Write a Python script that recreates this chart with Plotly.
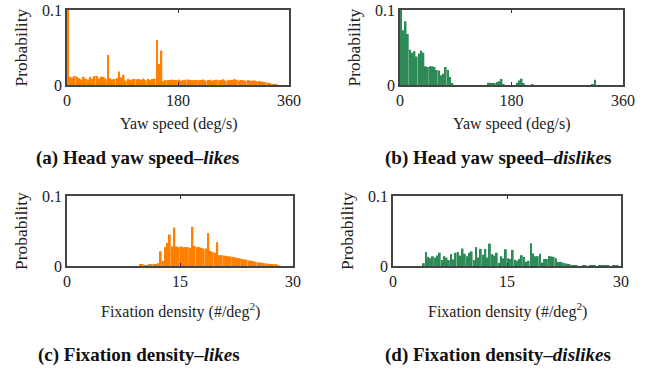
import numpy as np
import plotly.graph_objects as go

# ---------------- data ----------------
yaw_bin_width = 3.6          # deg/s, 100 bins over 0..360
fix_bin_width = 0.3          # #/deg^2, 100 bins over 0..30

yaw_likes = [0.1, 0.011, 0.010, 0.012, 0.011, 0.009, 0.0075, 0.011, 0.0085, 0.0075,
             0.011, 0.0085, 0.012, 0.012, 0.009, 0.011, 0.011, 0.0085, 0.040, 0.009,
             0.0075, 0.008, 0.0095, 0.018, 0.010, 0.0135, 0.006, 0.0085, 0.007, 0.0075,
             0.008, 0.0078, 0.008, 0.007, 0.0085, 0.0065, 0.008, 0.007, 0.008, 0.0085,
             0.060, 0.028, 0.046, 0.005, 0.0065, 0.0068, 0.0065, 0.0072, 0.0068, 0.0066,
             0.0072, 0.0058, 0.0064, 0.0070, 0.0075, 0.0068, 0.0066, 0.0065, 0.0068, 0.0062,
             0.0068, 0.0072, 0.0060, 0.0066, 0.0070, 0.0058, 0.0064, 0.0070, 0.0062, 0.0066,
             0.0076, 0.0060, 0.0065, 0.0068, 0.0066, 0.0078, 0.0070, 0.0060, 0.0068, 0.0064,
             0.0058, 0.0066, 0.0060, 0.0056, 0.0062, 0.0050, 0.0055, 0.0048, 0.0042, 0.0038,
             0.0030, 0.0020, 0.0012, 0.0008, 0.0005, 0.0, 0.0, 0.0, 0.0, 0.0]

yaw_dislikes = [0.1, 0.073, 0.085, 0.068, 0.047, 0.043, 0.045, 0.038, 0.042, 0.046,
                0.043, 0.025, 0.024, 0.025, 0.025, 0.024, 0.020, 0.0195, 0.013, 0.015,
                0.024, 0.020, 0.0107, 0.002, 0.0, 0.0, 0.0, 0.0, 0.0, 0.0,
                0.0, 0.0, 0.0, 0.0, 0.0, 0.0, 0.0, 0.0, 0.0, 0.003,
                0.003, 0.002, 0.002, 0.004, 0.005, 0.008, 0.001, 0.0, 0.0, 0.0,
                0.0, 0.0, 0.003, 0.006, 0.0085, 0.002, 0.0, 0.0, 0.0, 0.001,
                0.0, 0.0, 0.0, 0.0, 0.0, 0.0, 0.0, 0.0, 0.0, 0.0,
                0.0, 0.0, 0.0, 0.0, 0.0, 0.0, 0.0, 0.0, 0.0, 0.0,
                0.0, 0.0, 0.0, 0.0, 0.0, 0.0, 0.001, 0.007, 0.0, 0.0,
                0.0, 0.0, 0.0, 0.0, 0.0, 0.0, 0.0, 0.0, 0.0, 0.0]

fix_likes = [0.0] * 32 + [
    0.002, 0.002, 0.001, 0.001, 0.0015, 0.0015, 0.002, 0.002, 0.004, 0.021,
    0.007, 0.027, 0.033, 0.045, 0.028, 0.055, 0.028, 0.027, 0.028, 0.027,
    0.027, 0.027, 0.026, 0.056, 0.029, 0.027, 0.027, 0.026, 0.025, 0.025,
    0.047, 0.022, 0.020, 0.019, 0.034, 0.0155, 0.0155, 0.015, 0.0145, 0.014,
    0.0135, 0.013, 0.0125, 0.0115, 0.011, 0.010, 0.0095, 0.009, 0.008, 0.0075,
    0.007, 0.006, 0.0055, 0.005, 0.0045, 0.004, 0.0035, 0.003, 0.0025, 0.002,
    0.0015, 0.001] + [0.0] * 6

fix_dislikes = [0.0] * 13 + [
    0.004, 0.020, 0.013, 0.011, 0.014, 0.012, 0.015, 0.019, 0.0085, 0.014,
    0.012, 0.0085, 0.017, 0.0095, 0.019, 0.020, 0.015, 0.025, 0.0175, 0.014,
    0.019, 0.021, 0.0085, 0.027, 0.012, 0.0245, 0.016, 0.0245, 0.012, 0.032,
    0.017, 0.015, 0.019, 0.0047, 0.014, 0.011, 0.024, 0.011, 0.010, 0.023,
    0.009, 0.0075, 0.010, 0.0155, 0.013, 0.006, 0.0075, 0.0325, 0.018, 0.014,
    0.014, 0.0175, 0.005, 0.010, 0.010, 0.0145, 0.0137, 0.013, 0.011, 0.0057,
    0.006, 0.005, 0.004, 0.0033, 0.0028, 0.0014, 0.0005, 0.0005, 0.0, 0.0,
    0.0005, 0.0005, 0.0, 0.0005, 0.0005, 0.0005, 0.0, 0.0005, 0.0005, 0.0005,
    0.0005, 0.0005, 0.0, 0.0005, 0.0005, 0.0005, 0.0]

yaw_ticks = [0, 180, 360]
fix_ticks = [0, 15, 30]
prob_ticks = [0, 0.1]

captions = ["(a) Head yaw speed\u2013<i>like</i>s",
            "(b) Head yaw speed\u2013<i>dislike</i>s",
            "(c) Fixation density\u2013<i>like</i>s",
            "(d) Fixation density\u2013<i>dislike</i>s"]
xtitles = ["Yaw speed (deg/s)", "Yaw speed (deg/s)",
           "Fixation density (#/deg<sup>2</sup>)", "Fixation density (#/deg<sup>2</sup>)"]

ORANGE = "#FF8000"
GREEN = "#2E8B57"
FONT = "Liberation Serif"

W, H = 668, 373

def px(x):
    return x / W

def py(y):
    return 1 - y / H

# panel boxes in pixels (left, right, top, bottom)
boxes = [(67, 289, 10, 85), (400, 623, 10, 85), (67, 293, 196, 266), (393, 621, 196, 266)]
xtitle_offsets = [39, 39, 44, 44]

panels = [
    (yaw_likes, yaw_bin_width, [0, 360], yaw_ticks, ORANGE),
    (yaw_dislikes, yaw_bin_width, [0, 360], yaw_ticks, GREEN),
    (fix_likes, fix_bin_width, [0, 30], fix_ticks, ORANGE),
    (fix_dislikes, fix_bin_width, [0, 30], fix_ticks, GREEN),
]

fig = go.Figure()
layout = dict(
    template="none",
    width=W, height=H, margin=dict(l=0, r=0, t=0, b=0, pad=0), autosize=False,
    paper_bgcolor="white", plot_bgcolor="white",
    showlegend=False, bargap=0.22,
    font=dict(family=FONT, size=16, color="#222"),
)
annotations = []

for i, ((vals, bw, xr, xt, col), (l, r, t, b)) in enumerate(zip(panels, boxes)):
    n = i + 1
    xa = "x" if n == 1 else f"x{n}"
    ya = "y" if n == 1 else f"y{n}"
    centers = (np.arange(len(vals)) + 0.5) * bw
    fig.add_trace(go.Bar(x=centers, y=vals, marker=dict(color=col, line=dict(width=0)),
                         xaxis=xa, yaxis=ya, width=bw * 0.82))
    axkey = "xaxis" if n == 1 else f"xaxis{n}"
    aykey = "yaxis" if n == 1 else f"yaxis{n}"
    layout[axkey] = dict(domain=[px(l), px(r)], range=xr, anchor=ya, automargin=False,
                         tickvals=xt, ticktext=[str(v) for v in xt],
                         ticks="inside", ticklen=3, tickcolor="#333",
                         showline=True, linecolor="#444", linewidth=1.5, mirror="ticks",
                         showgrid=False, zeroline=False, fixedrange=True,
                         tickfont=dict(family=FONT, size=16, color="#222"))
    layout[aykey] = dict(domain=[py(b), py(t)], range=[0, 0.1], anchor=xa, automargin=False,
                         tickvals=prob_ticks, ticktext=["0", "0.1"],
                         ticks="inside", ticklen=3, tickcolor="#333",
                         showline=True, linecolor="#444", linewidth=1.5, mirror="ticks",
                         showgrid=False, zeroline=False, fixedrange=True,
                         tickfont=dict(family=FONT, size=16, color="#222"))
    # y-axis title
    annotations.append(dict(text="Probability", textangle=-90, xref="paper", yref="paper",
                            x=px(l - 46), y=py((t + b) / 2), showarrow=False,
                            xanchor="center", yanchor="middle",
                            font=dict(family=FONT, size=17.5, color="#222")))
    # x-axis title
    annotations.append(dict(text=xtitles[i], xref="paper", yref="paper",
                            x=px((l + r) / 2), y=py(b + xtitle_offsets[i]), showarrow=False,
                            xanchor="center", yanchor="middle",
                            font=dict(family=FONT, size=16, color="#222")))

cap_pos = [(137, 158), (498, 158), (139, 355), (498, 355)]
for cap, (cx, cy) in zip(captions, cap_pos):
    annotations.append(dict(text=f"<b>{cap}</b>", xref="paper", yref="paper",
                            x=px(cx), y=py(cy), showarrow=False,
                            xanchor="center", yanchor="middle",
                            font=dict(family=FONT, size=19, color="#111")))

layout["annotations"] = annotations
fig.update_layout(**layout)
fig.write_html("out.html", config={"displayModeBar": False},
               post_script="document.body.style.margin='0';document.body.style.padding='0';")
